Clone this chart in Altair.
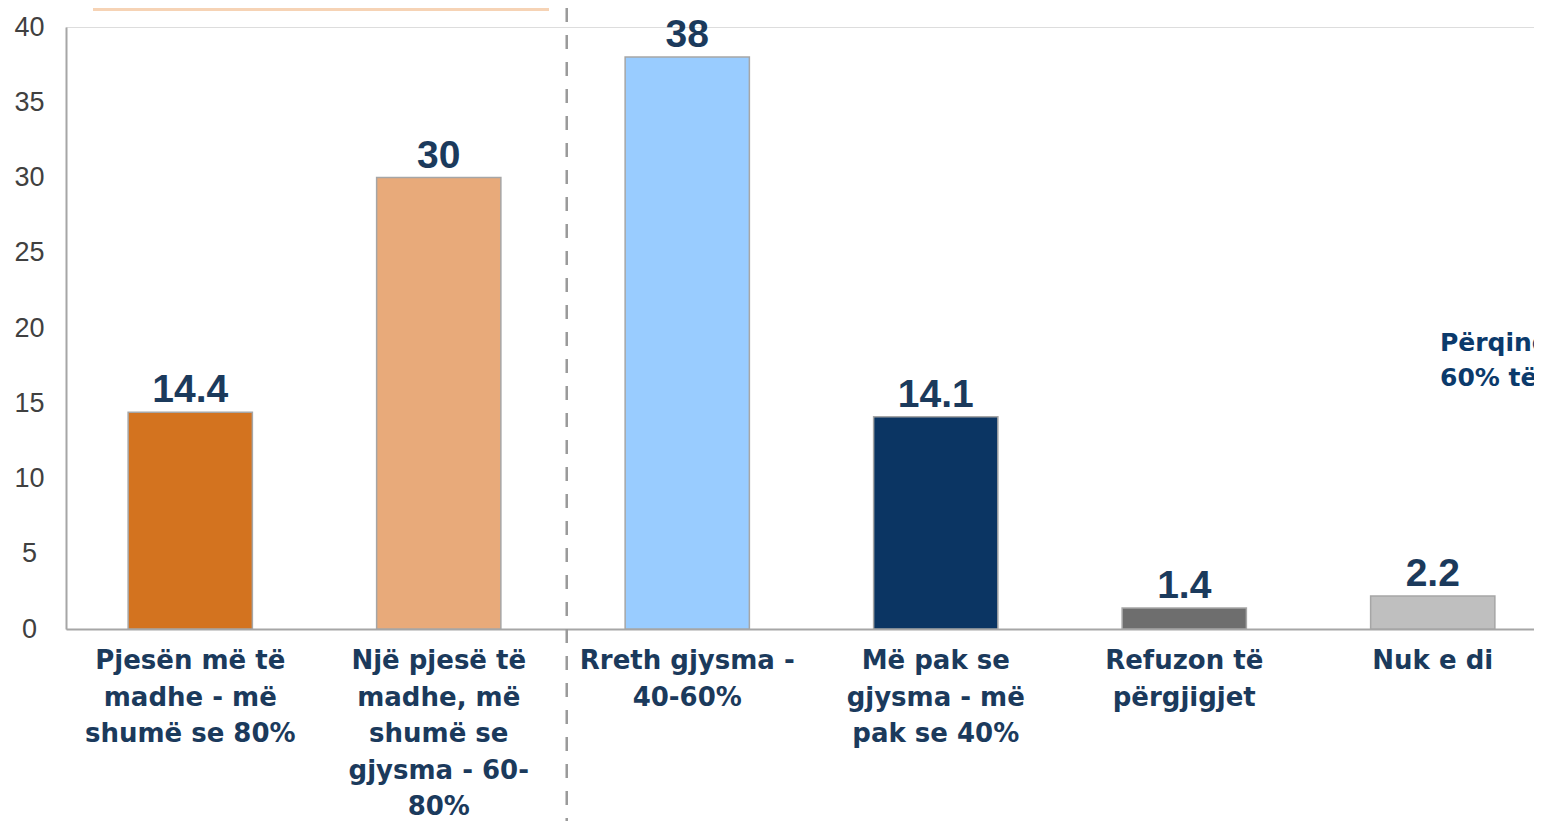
import altair as alt
import pandas as pd

categories = [
    "Pjesën më të madhe - më shumë se 80%",
    "Një pjesë të madhe, më shumë se gjysma - 60-80%",
    "Rreth gjysma - 40-60%",
    "Më pak se gjysma - më pak se 40%",
    "Refuzon të përgjigjet",
    "Nuk e di",
]
label_lines = [
    "Pjesën më të\nmadhe - më\nshumë se 80%",
    "Një pjesë të\nmadhe, më\nshumë se\ngjysma - 60-\n80%",
    "Rreth gjysma -\n40-60%",
    "Më pak se\ngjysma - më\npak se 40%",
    "Refuzon të\npërgjigjet",
    "Nuk e di",
]
values = [14.4, 30, 38, 14.1, 1.4, 2.2]
value_text = ["14.4", "30", "38", "14.1", "1.4", "2.2"]
colors = ["#d3731f", "#e8aa7a", "#99ccff", "#0b3563", "#6e6e6e", "#bfbfbf"]
y_ticks = [0, 5, 10, 15, 20, 25, 30, 35, 40]
divider_pos = [2.015]  # boundary between the 2nd and 3rd category (in category steps)
annotation = ["Përqindja e", "60% të të"]

W, H = 1468, 602
FONT = "Liberation Sans"
BOLD_FONT = "DejaVu Sans"
NAVY = "#1b3a5c"

df = pd.DataFrame({
    "cat": categories,
    "label": label_lines,
    "value": values,
    "vtext": value_text,
    "color": colors,
})

x_scale = alt.Scale(domain=categories, range=[0, 1491], paddingInner=0.5, paddingOuter=0.25)
x_enc = alt.X("cat:N", scale=x_scale, sort=categories,
              axis=alt.Axis(labels=False, ticks=False, title=None, domainColor="#a6a6a6", domainWidth=2))
x_noaxis = alt.X("cat:N", scale=x_scale, sort=categories, axis=None)
y_enc = alt.Y("value:Q", scale=alt.Scale(domain=[0, 40], nice=False),
              axis=alt.Axis(values=y_ticks, title=None, grid=False, ticks=False,
                            labelPadding=37, labelAlign="center", labelFont=FONT,
                            labelFontSize=27, labelColor="#404040",
                            domainColor="#a6a6a6", domainWidth=2))

base = alt.Chart(df)

bars = base.mark_bar(stroke="#a6a6a6", strokeWidth=1.5).encode(
    x=x_enc, y=y_enc, color=alt.Color("color:N", scale=None)
)

vlabels = base.mark_text(font=FONT, fontSize=39, fontWeight="bold", color=NAVY,
                         baseline="alphabetic", dy=-10).encode(
    x=x_noaxis,
    y=alt.Y("value:Q"),
    text="vtext:N",
)

xlabels = base.mark_text(font=BOLD_FONT, fontSize=26, fontWeight="bold", color=NAVY,
                         baseline="top", lineBreak="\n", lineHeight=36.5, align="center").encode(
    x=x_noaxis,
    y=alt.value(H + 19),
    text="label:N",
)

divider = alt.Chart(pd.DataFrame({"pos": divider_pos})).mark_rule(
    color="#9a9a9a", strokeWidth=2.5, strokeDash=[14, 13]
).encode(
    x=alt.X("pos:Q", scale=alt.Scale(domain=[0, 6], range=[0, 1491], nice=False, zero=True), axis=None),
    y=alt.value(-19),
    y2=alt.value(H + 192),
)

top_box = alt.Chart(pd.DataFrame({"k": [0]})).mark_rect(color="#f6d3b5").encode(
    x=alt.value(27), x2=alt.value(483), y=alt.value(-19), y2=alt.value(-16)
)

ann = alt.Chart(pd.DataFrame({"t": ["\n".join(annotation)]})).mark_text(
    font=BOLD_FONT, fontSize=25, fontWeight="bold", color="#0b3a6b",
    align="left", baseline="top", lineBreak="\n", lineHeight=35
).encode(
    x=alt.value(1374), y=alt.value(304), text="t:N"
)

chart = alt.layer(top_box, bars, vlabels, xlabels, ann, divider).resolve_scale(
    x="independent"
).properties(
    width=W, height=H,
    autosize=alt.AutoSizeParams(type="none"),
    padding={"left": 58, "top": 19, "right": 0, "bottom": 192},
).configure_view(stroke=None).configure(background="white")

chart.save("out.html", embed_options={"renderer": "svg", "actions": False})
